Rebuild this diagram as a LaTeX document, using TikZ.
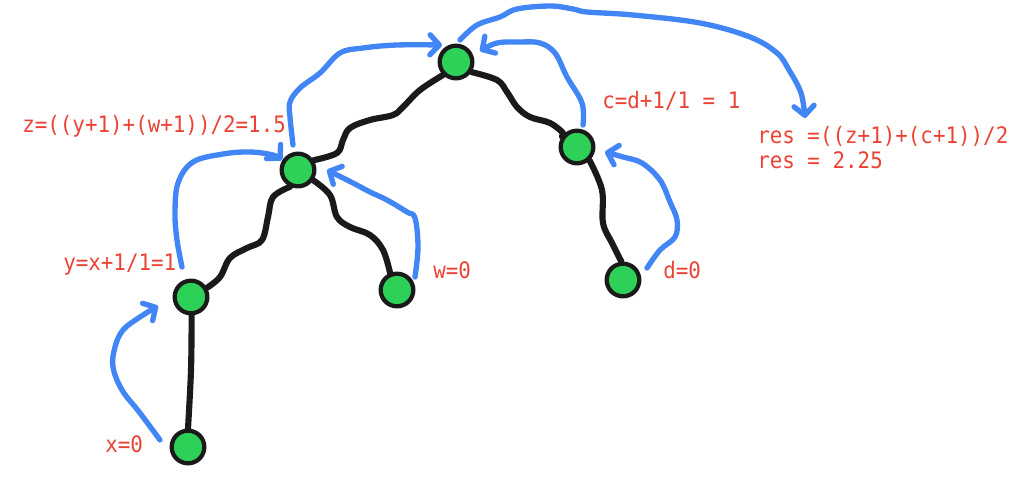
\documentclass[tikz,border=0pt]{standalone}
\usepackage{fontspec}
\newfontfamily\labfont[FakeStretch=0.92]{DejaVu Sans Mono}
\usetikzlibrary{arrows.meta,backgrounds}
\definecolor{nodegreen}{HTML}{2ED158}
\definecolor{arrowblue}{HTML}{4286F5}
\definecolor{labred}{HTML}{EA4335}
\definecolor{edgeblack}{HTML}{1A1A1A}
\begin{document}
\begin{tikzpicture}[x=0.75pt,y=-0.75pt,
  vert/.style={circle,draw=edgeblack,fill=nodegreen,line width=3.2pt,minimum size=24.5pt,inner sep=0pt},
  treeedge/.style={draw=edgeblack,line width=4.6pt,line cap=round,line join=round},
  flow/.style={draw=arrowblue,line width=4pt,line cap=round,line join=round,-{Straight Barb[length=7pt,width=15pt,round]}},
  lab/.style={text=labred,font=\labfont\fontsize{17}{20}\selectfont,anchor=base west,inner sep=0pt}]
\useasboundingbox (0,0) rectangle (1018,496);

% tree vertices
\node[vert] (root) at (456,62) {};
\node[vert] (zn) at (298,170) {};
\node[vert] (cn) at (577,147) {};
\node[vert] (yn) at (191,297) {};
\node[vert] (wn) at (397,290) {};
\node[vert] (dn) at (623,280) {};
\node[vert] (xn) at (188,447) {};

% labels
\node[lab] (zlab) at (22,132) {z=((y+1)+(w+1))/2=1.5};
\node[lab] (clab) at (602,108) {c=d+1/1 = 1};
\node[lab] (res1) at (757,143) {res =((z+1)+(c+1))/2};
\node[lab] (res2) at (757,168) {res = 2.25};
\node[lab] (ylab) at (63,270) {y=x+1/1=1};
\node[lab] (wlab) at (433,278) {w=0};
\node[lab] (dlab) at (663,278) {d=0};
\node[lab] (xlab) at (105,452) {x=0};

% tree edges
\begin{scope}[on background layer]
\draw[treeedge] plot[smooth,tension=0.6] coordinates {(root.225) (420,90) (403,107) (393,115) (370,120) (350,128) (343,140) (337,153) (zn.32)};
\draw[treeedge] plot[smooth,tension=0.6] coordinates {(root.327) (497,80) (507,92) (517,107) (530,117) (550,123) (563,133) (cn.145)};
\draw[treeedge] plot[smooth,tension=0.6] coordinates {(zn.245) (273,197) (268,217) (262,240) (247,248) (230,258) (220,277) (yn.30)};
\draw[treeedge] plot[smooth,tension=0.6] coordinates {(zn.326) (330,195) (337,217) (350,227) (370,235) (383,250) (wn.112)};
\draw[treeedge] plot[smooth,tension=0.6] coordinates {(cn.313) (602,190) (603,223) (612,243) (dn.95)};
\draw[treeedge] plot[smooth,tension=0.6] coordinates {(yn.272) (191,370) (xn.90)};
\end{scope}

% flow arrows
\coordinate (fx0) at (160,440); \coordinate (fx1) at (158,306);
\draw[flow] plot[smooth,tension=0.6] coordinates {(fx0) (140,413) (122,390) (113,367) (115,347) (123,330) (140,317) (fx1)};
\coordinate (fy0) at (182,267); \coordinate (fy1) at (282,160);
\draw[flow] plot[smooth,tension=0.6] coordinates {(fy0) (177,240) (175,213) (178,183) (193,162) (223,154) (250,152) (273,155) (fy1)};
\coordinate (fw0) at (415,277); \coordinate (fw1) at (327,170);
\draw[flow] plot[smooth,tension=0.6] coordinates {(fw0) (418,247) (415,218) (407,212) (387,200) (370,192) (353,183) (fw1)};
\coordinate (fz0) at (293,145); \coordinate (fz1) at (442,45);
\draw[flow] plot[smooth,tension=0.6] coordinates {(fz0) (290,117) (290,102) (300,88) (320,73) (340,53) (363,48) (397,45) (fz1)};
\coordinate (fc0) at (583,125); \coordinate (fc1) at (480,51);
\draw[flow] plot[smooth,tension=0.6] coordinates {(fc0) (582,103) (567,77) (555,53) (540,43) (520,42) (497,43) (fc1)};
\coordinate (fd0) at (647,268); \coordinate (fd1) at (605,152);
\draw[flow] plot[smooth,tension=0.6] coordinates {(fd0) (660,250) (675,237) (677,220) (670,202) (660,180) (642,163) (623,157) (fd1)};
\coordinate (fr0) at (460,40); \coordinate (fr1) at (805,118);
\draw[flow] plot[smooth,tension=0.6] coordinates {(fr0) (477,25) (500,17) (517,9) (550,6) (573,9) (587,12) (633,15) (700,23) (750,37) (777,53) (789,70) (801,93) (fr1)};
\end{tikzpicture}
\end{document}
